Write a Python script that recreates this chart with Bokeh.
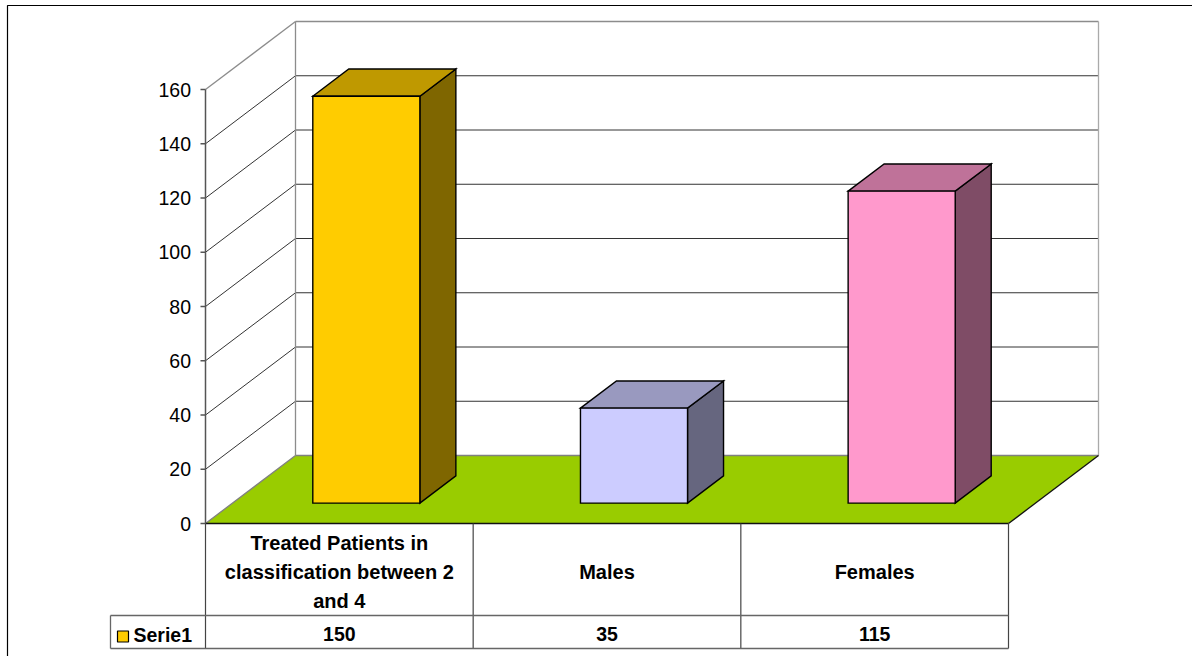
from bokeh.plotting import figure
from bokeh.models import Range1d
from bokeh.embed import file_html
from bokeh.resources import INLINE
from bokeh.core.properties import value

# ---- data ----
categories = ["Treated Patients in\nclassification between 2\nand 4", "Males", "Females"]
values = [150, 35, 115]
tick_values = [0, 20, 40, 60, 80, 100, 120, 140, 160]
tick_labels = ["0", "20", "40", "60", "80", "100", "120", "140", "160"]
bar_colors = ["#FFCC00", "#CCCCFF", "#FF99CC"]
series_name = "Serie1"

# ---- layout constants (pixels) ----
W, H = 1192, 656
X0_PX, Y0_PX = 205, 523          # origin of category axis / value 0
CPX = 803 / 3.0                   # pixels per category
VPX = 434 / 160.0                 # pixels per value unit
DX = 90 / CPX                     # depth offset (category units)
DY = 68 / VPX                     # depth offset (value units)
VMAX = tick_values[-1]
N = len(categories)

def px_x(px):
    return (px - X0_PX) / CPX

def px_y(py):
    return (Y0_PX - py) / VPX

def P(x, v, z):
    return (x + z * DX, v + z * DY)

def shade(hexcol, f):
    h = hexcol.lstrip("#")
    r, g, b = (int(h[i:i + 2], 16) for i in (0, 2, 4))
    return "#%02X%02X%02X" % (int(r * f), int(g * f), int(b * f))

p = figure(width=W, height=H,
           x_range=Range1d(px_x(0), px_x(W)),
           y_range=Range1d(px_y(H), px_y(0)),
           output_backend="svg", toolbar_location=None,
           min_border=0, x_axis_type=None, y_axis_type=None)
p.outline_line_color = None
p.background_fill_color = "white"
p.border_fill_color = "white"

def seg(a, b, color, width=1.0):
    p.line([a[0], b[0]], [a[1], b[1]], line_color=color, line_width=width)

# outer chart border (left & top visible)
bx, by = px_x(7), px_y(5)
p.line([bx, bx, px_x(W + 20)], [px_y(H + 20), by, by], line_color="black", line_width=1.2)

# walls
grid_col = "#333333"
wall_edge = "#8C8C8C"
for t in tick_values[1:-1]:
    seg(P(0, t, 0), P(0, t, 1), grid_col)
    seg(P(0, t, 1), P(N, t, 1), grid_col)
seg(P(0, VMAX, 0), P(0, VMAX, 1), wall_edge, 1.3)
seg(P(0, VMAX, 1), P(N, VMAX, 1), wall_edge, 1.3)
seg(P(0, 0, 1), P(0, VMAX, 1), wall_edge, 1.3)
seg(P(N, 0, 1), P(N, VMAX, 1), "#AAAAAA", 1.3)

# floor
fl = [P(0, 0, 0), P(N, 0, 0), P(N, 0, 1), P(0, 0, 1)]
p.patch([q[0] for q in fl], [q[1] for q in fl], fill_color="#99CC00", line_color=None)
seg(P(0, 0, 0), P(0, 0, 1), "#808080", 1.3)
seg(P(0, 0, 1), P(N, 0, 1), "#808080", 1.3)
seg(P(N, 0, 1), P(N, 0, 0), "#111111", 1.3)
seg(P(0, 0, 0), P(N, 0, 0), "#111111", 1.5)

# value axis
axis_col = "#555555"
seg((0, 0), (0, VMAX), axis_col, 1.5)
tick_len = 5 / CPX
for t in tick_values:
    seg((-tick_len, t), (0, t), axis_col, 1.3)
p.text(x=[px_x(190.5)] * len(tick_values), y=tick_values, text=tick_labels,
       text_font=value("Liberation Sans"), text_font_size="19.5px",
       text_align="right", text_baseline="middle", text_color="black")

# bars
z0, z1 = 0.3, 0.7
bw = 0.4
xs_f, ys_f, c_f = [], [], []
xs_t, ys_t, c_t = [], [], []
xs_s, ys_s, c_s = [], [], []
for i, (v, col) in enumerate(zip(values, bar_colors)):
    xa = i + (1 - bw) / 2
    xb = xa + bw
    front = [P(xa, 0, z0), P(xb, 0, z0), P(xb, v, z0), P(xa, v, z0)]
    top = [P(xa, v, z0), P(xb, v, z0), P(xb, v, z1), P(xa, v, z1)]
    side = [P(xb, 0, z0), P(xb, 0, z1), P(xb, v, z1), P(xb, v, z0)]
    for poly, xs, ys, cs, f in ((front, xs_f, ys_f, c_f, 1.0),
                                (top, xs_t, ys_t, c_t, 0.75),
                                (side, xs_s, ys_s, c_s, 0.5)):
        xs.append([q[0] for q in poly])
        ys.append([q[1] for q in poly])
        cs.append(shade(col, f))
for xs, ys, cs in ((xs_s, ys_s, c_s), (xs_t, ys_t, c_t), (xs_f, ys_f, c_f)):
    p.patches(xs, ys, fill_color=cs, line_color="black", line_width=1.4, line_join="miter")

# data table
tab_col = "#444444"
y_hdr = px_y(615)
y_bot = px_y(648)
x_left = px_x(110)
for k in range(N + 1):
    seg((k, 0), (k, y_bot), tab_col, 1.2)
seg((x_left, y_hdr), (N, y_hdr), "#666666", 1.3)
seg((x_left, y_bot), (N, y_bot), "#666666", 1.3)
seg((x_left, y_hdr), (x_left, y_bot), "#666666", 1.3)

centers = [i + 0.5 for i in range(N)]
p.text(x=centers, y=[px_y(571.5)] * N, text=categories,
       text_font=value("Liberation Sans"), text_font_size="20px", text_font_style="bold",
       text_align="center", text_baseline="middle", text_line_height=1.31, text_color="black")
p.text(x=centers, y=[px_y(633)] * N, text=[str(v) for v in values],
       text_font=value("Liberation Sans"), text_font_size="19.5px", text_font_style="bold",
       text_align="center", text_baseline="middle", text_color="black")

# legend key + series name
p.rect(x=[px_x(122.5)], y=[px_y(636)], width=11, height=11,
       width_units="screen", height_units="screen",
       fill_color=bar_colors[0], line_color="black", line_width=1.2)
p.text(x=[px_x(133)], y=[px_y(634)], text=[series_name],
       text_font=value("Liberation Sans"), text_font_size="19.5px", text_font_style="bold",
       text_align="left", text_baseline="middle", text_color="black")

open("out.html", "w").write(file_html(p, INLINE))
